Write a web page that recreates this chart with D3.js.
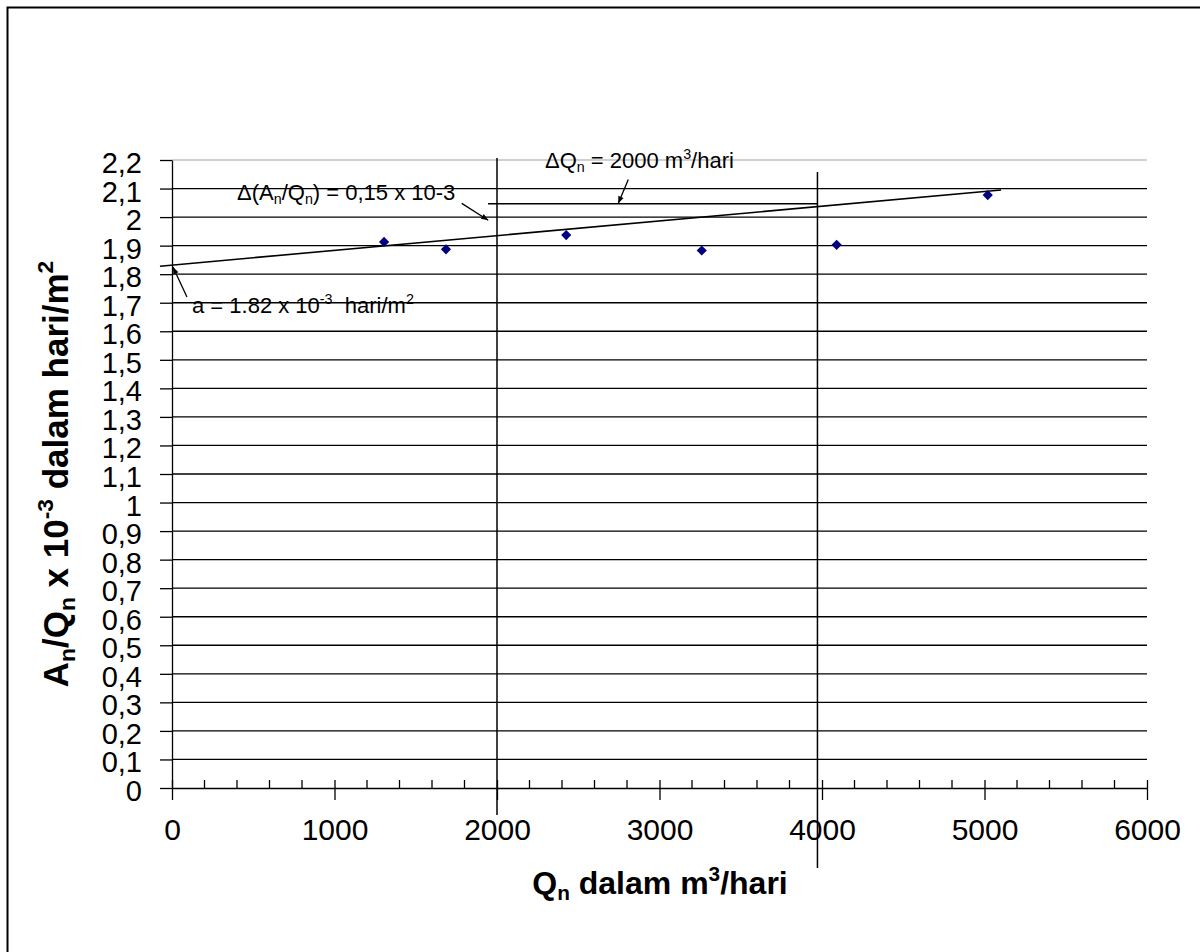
<!DOCTYPE html>
<html><head><meta charset="utf-8">
<script src="https://cdn.jsdelivr.net/npm/d3@7"></script>
<style>
body{margin:0;background:#fff}
svg{display:block;font-family:"Liberation Sans",Arial,sans-serif}
text{white-space:pre}
</style>
</head><body>
<svg id="chart" width="1200" height="952"></svg>
<script>
// ---- data ----
const qValues = [1305, 1686, 2426, 3260, 4090, 5020];          // Q_n (m3/hari)
const ratioValues = [1.913, 1.887, 1.937, 1.883, 1.903, 2.077]; // A_n/Q_n x 10^-3
const xTicks = [0, 1000, 2000, 3000, 4000, 5000, 6000];
const xTickLabels = ["0", "1000", "2000", "3000", "4000", "5000", "6000"];
const yTicks = [0, 0.1, 0.2, 0.3, 0.4, 0.5, 0.6, 0.7, 0.8, 0.9, 1, 1.1, 1.2, 1.3, 1.4, 1.5, 1.6, 1.7, 1.8, 1.9, 2, 2.1, 2.2];
const yTickLabels = ["0","0,1","0,2","0,3","0,4","0,5","0,6","0,7","0,8","0,9","1","1,1","1,2","1,3","1,4","1,5","1,6","1,7","1,8","1,9","2","2,1","2,2"];
const trendQ = [-74, 5102];
const trendRatio = [1.828, 2.095];
// construction lines (data units)
const constructionLines = [
  [[2000, 2.207], [2000, -0.095]],
  [[3972, 2.158], [3972, -0.28]],
  [[1945, 2.047], [3972, 2.047]]
];
const arrows = [
  [[1783, 2.048], [1946, 1.989]],
  [[2808, 2.132], [2746, 2.048]],
  [[92, 1.720], [6, 1.825]]
];
const annotationText = [
  {q: 400, r: 2.060, parts: [["Δ(A"], ["n","sub"], ["/Q"], ["n","sub"], [") = 0,15 x 10-3"]]},
  {q: 2295, r: 2.172, parts: [["ΔQ"], ["n","sub"], [" = 2000 m"], ["3","sup"], ["/hari"]]},
  {q: 123, r: 1.664, parts: [["a = 1.82 x 10"], ["-3","sup"], ["  hari/m"], ["2","sup"]]}
];
const xTitle = [["Q"], ["n","sub"], [" dalam m"], ["3","sup"], ["/hari"]];
const yTitle = [["A"], ["n","sub"], ["/Q"], ["n","sub"], [" x 10"], ["-3","sup"], [" dalam hari/m"], ["2","sup"]];

// ---- layout ----
const svg = d3.select("#chart");
const x = d3.scaleLinear().domain([0, 6000]).range([172, 1147]);
const y = d3.scaleLinear().domain([0, 2.2]).range([788, 160]);

function richTextPx(sel, parts, fsPx) {
  let shift = 0;
  parts.forEach(([t, kind]) => {
    const target = kind === "sub" ? 0.2 * fsPx : kind === "sup" ? -0.42 * fsPx : 0;
    sel.append("tspan").text(t)
      .attr("dy", (target - shift).toFixed(2))
      .attr("font-size", kind ? (fsPx * 0.65).toFixed(1) : fsPx);
    shift = target;
  });
  return sel;
}

// frame
svg.append("path").attr("d", "M7.5,952 V7.5 H1200").attr("fill", "none").attr("stroke", "#000").attr("stroke-width", 2);

// horizontal gridlines
svg.append("g").selectAll("line").data(yTicks.filter(v => v > 0)).join("line")
  .attr("x1", x(0)).attr("x2", x(6000))
  .attr("y1", d => y(d)).attr("y2", d => y(d))
  .attr("stroke", d => d === 2.2 ? "#c0c0c0" : "#000")
  .attr("stroke-width", d => d === 2.2 ? 1.6 : 1.3);

// y axis
const yAxis = d3.axisLeft(y).tickValues(yTicks)
  .tickFormat((d, i) => yTickLabels[i]).tickSize(12).tickSizeOuter(0).tickPadding(18);
const gy = svg.append("g").attr("transform", `translate(${x(0)},0)`).call(yAxis);
gy.select(".domain").attr("stroke", "#000").attr("stroke-width", 1.3);
gy.selectAll(".tick line").attr("stroke", "#000").attr("stroke-width", 1.3);
gy.selectAll(".tick text").attr("font-size", 29).attr("font-family", "Liberation Sans, Arial, sans-serif")
  .attr("fill", "#000").attr("dy", "0.43em");

// x axis
const xAxis = d3.axisBottom(x).tickValues(xTicks)
  .tickFormat((d, i) => xTickLabels[i]).tickSize(12).tickSizeOuter(0).tickPadding(19);
const gx = svg.append("g").attr("transform", `translate(0,${y(0)})`).call(xAxis);
gx.select(".domain").attr("stroke", "#000").attr("stroke-width", 1.3);
gx.selectAll(".tick line").attr("stroke", "#000").attr("stroke-width", 1.3).attr("y1", -8);
gx.selectAll(".tick text").attr("font-size", 30).attr("font-family", "Liberation Sans, Arial, sans-serif").attr("fill", "#000");
// minor ticks (inside)
svg.append("g").selectAll("line").data(d3.range(200, 6000, 200).filter(v => v % 1000 !== 0)).join("line")
  .attr("x1", d => x(d)).attr("x2", d => x(d))
  .attr("y1", y(0)).attr("y2", y(0) - 8)
  .attr("stroke", "#000").attr("stroke-width", 1.3);

// construction lines
const line = d3.line().x(d => x(d[0])).y(d => y(d[1]));
svg.append("g").selectAll("path").data(constructionLines).join("path")
  .attr("d", line).attr("fill", "none").attr("stroke", "#000").attr("stroke-width", 1.5);

// trend line
svg.append("path").datum(trendQ.map((q, i) => [q, trendRatio[i]]))
  .attr("d", line).attr("fill", "none").attr("stroke", "#000").attr("stroke-width", 1.6);

// arrows
svg.append("defs").append("marker").attr("id", "ah")
  .attr("viewBox", "0 0 10 10").attr("refX", 10).attr("refY", 5)
  .attr("markerWidth", 9).attr("markerHeight", 7).attr("markerUnits", "userSpaceOnUse")
  .attr("orient", "auto")
  .append("path").attr("d", "M0,1 L10,5 L0,9 Z").attr("fill", "#000");
svg.append("g").selectAll("path").data(arrows).join("path")
  .attr("d", line).attr("fill", "none").attr("stroke", "#000").attr("stroke-width", 1.3)
  .attr("marker-end", "url(#ah)");

// data points
svg.append("g").selectAll("path").data(qValues.map((q, i) => [q, ratioValues[i]])).join("path")
  .attr("transform", d => `translate(${x(d[0])},${y(d[1])}) rotate(45)`)
  .attr("d", d3.symbol(d3.symbolSquare, 52))
  .attr("fill", "#000080");

// annotation texts
annotationText.forEach(a => {
  const t = svg.append("text").attr("x", x(a.q)).attr("y", y(a.r))
    .attr("font-size", 22).attr("fill", "#000");
  richTextPx(t, a.parts, 22);
});

// axis titles
const xt = svg.append("text").attr("x", 660).attr("y", 894).attr("text-anchor", "middle")
  .attr("font-size", 32).attr("font-weight", "bold").attr("fill", "#000");
richTextPx(xt, xTitle, 32);
const yt = svg.append("text").attr("transform", "translate(68,474) rotate(-90)").attr("text-anchor", "middle")
  .attr("font-size", 35).attr("font-weight", "bold").attr("fill", "#000");
richTextPx(yt, yTitle, 35);
</script>
</body></html>
